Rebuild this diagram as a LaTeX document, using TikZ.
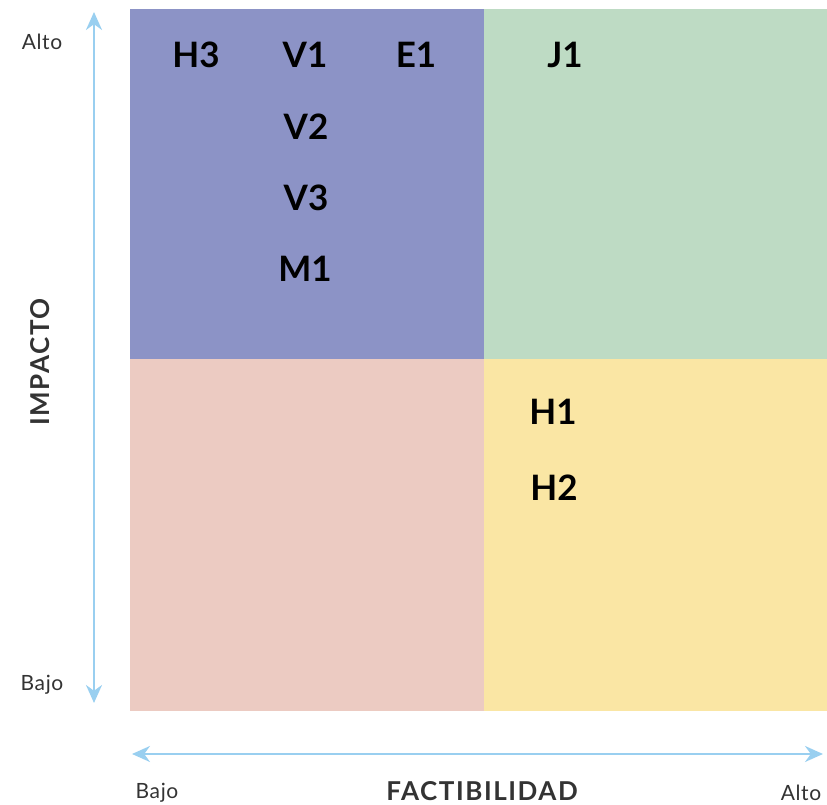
\documentclass[tikz,border=0pt]{standalone}
\usepackage{fontspec}
\setmainfont{Lato}
\usetikzlibrary{arrows.meta}

\definecolor{azulq}{HTML}{8C93C6}
\definecolor{verdeq}{HTML}{BEDBC4}
\definecolor{rosaq}{HTML}{ECCBC2}
\definecolor{amarq}{HTML}{FAE6A4}
\definecolor{ejec}{HTML}{99CFF0}
\definecolor{textoc}{HTML}{333333}

\tikzset{
  eje/.style={draw=ejec, line width=2.6pt, {Stealth[length=18pt,width=16pt]}-{Stealth[length=18pt,width=16pt]}},
  idea/.style={font=\bfseries\fontsize{35}{38}\selectfont, text=black},
  nivel/.style={font=\addfontfeatures{LetterSpace=3}\fontsize{21}{24}\selectfont, text=textoc},
  titulo/.style={font=\bfseries\addfontfeatures{LetterSpace=6}\fontsize{26}{29}\selectfont, text=textoc, inner sep=1pt}
}

\begin{document}
\begin{tikzpicture}[x=1pt, y=1pt]
  \useasboundingbox (0,0) rectangle (827,805);

  % --- cuadrantes ---
  \fill[azulq]  (130,446) rectangle (484,796);
  \fill[verdeq] (484,446) rectangle (827,796);
  \fill[rosaq]  (130,94)  rectangle (484,446);
  \fill[amarq]  (484,94)  rectangle (827,446);

  % ejes
  \coordinate (imparriba) at (94,793);
  \coordinate (impabajo) at (94,102);
  \coordinate (facizq) at (132,51);
  \coordinate (facder) at (823,51);
  \draw[eje] (impabajo) -- (imparriba);
  \draw[eje] (facizq) -- (facder);

  % etiquetas de los ejes
  \node[nivel] (altoI) at (42,763) {Alto};
  \node[nivel] (bajoI) at (42,120) {Bajo};
  \node[nivel] (bajoF) at (157,12) {Bajo};
  \node[nivel] (altoF) at (801,12) {Alto};
  \node[titulo, rotate=90] (impacto) at (40,443) {IMPACTO};
  \node[titulo] (factib) at (482,14) {FACTIBILIDAD};

  % ideas en la matriz
  \node[idea] (h3) at (196,750) {H3};
  \node[idea] (v1) at (305,750) {V1};
  \node[idea] (e1) at (416,750) {E1};
  \node[idea] (j1) at (565,750) {J1};
  \node[idea] (v2) at (306,678) {V2};
  \node[idea] (v3) at (306,607) {V3};
  \node[idea] (m1) at (305,536) {M1};
  \node[idea] (h1) at (553,393) {H1};
  \node[idea] (h2) at (554,317) {H2};
\end{tikzpicture}
\end{document}
